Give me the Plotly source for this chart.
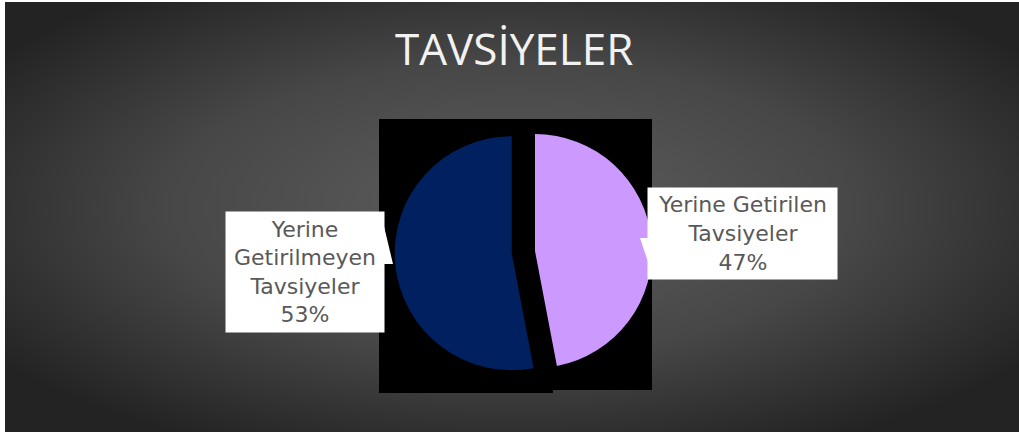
import base64
import plotly.graph_objects as go

# chart data
labels = ["Yerine Getirilen Tavsiyeler", "Yerine Getirilmeyen Tavsiyeler"]
values = [47, 53]
colors = ["#CC99FF", "#002060"]
label_text = ["Yerine Getirilen<br>Tavsiyeler<br>47%",
              "Yerine<br>Getirilmeyen<br>Tavsiyeler<br>53%"]
title = "TAVSİYELER"

W, H = 1019, 432


def px(x):
    return x / W


def py(y):
    return 1 - y / H


def tri(pts):
    # svg path for a callout wedge, given pixel points
    d = " L ".join(f"{px(x):.5f},{py(y):.5f}" for x, y in pts)
    return "M " + d + " Z"


# radial gradient background as an svg image
svg = """<svg xmlns='http://www.w3.org/2000/svg' width='1014' height='430' preserveAspectRatio='none'>
<defs><radialGradient id='g' cx='50%' cy='48%' r='62%' fx='50%' fy='48%'>
<stop offset='0%' stop-color='#5e5e5e'/>
<stop offset='55%' stop-color='#474747'/>
<stop offset='100%' stop-color='#232323'/>
</radialGradient></defs>
<rect width='1014' height='430' fill='url(#g)'/></svg>"""
bg_src = "data:image/svg+xml;base64," + base64.b64encode(svg.encode()).decode()

fig = go.Figure()

# pie centre ~ (535, 251), radius ~117 px, navy slice pulled out
fig.add_trace(go.Pie(
    labels=labels,
    values=values,
    marker=dict(colors=colors, line=dict(width=0)),
    sort=False,
    direction="clockwise",
    rotation=0,
    pull=[0, 0.2],
    textinfo="none",
    showlegend=False,
    domain=dict(x=[px(394.6), px(675.4)], y=[py(391.4), py(110.6)]),
))

# black plot area behind the pie
fig.add_shape(type="rect", xref="paper", yref="paper",
              x0=px(379), x1=px(652), y0=py(390), y1=py(119),
              fillcolor="black", line_width=0, layer="below")
fig.add_shape(type="rect", xref="paper", yref="paper",
              x0=px(379), x1=px(553), y0=py(393), y1=py(119),
              fillcolor="black", line_width=0, layer="below")

# callout wedges pointing at the slices
fig.add_shape(type="path", xref="paper", yref="paper",
              path=tri([(640, 238), (649, 238), (649, 265)]),
              fillcolor="white", line_width=0)
fig.add_shape(type="path", xref="paper", yref="paper",
              path=tri([(383, 222), (393, 264), (383, 264)]),
              fillcolor="white", line_width=0)

label_font = dict(family="DejaVu Sans", size=22, color="#595959")

fig.add_annotation(xref="paper", yref="paper", x=px(742.5), y=py(233.5),
                   text=label_text[0], font=label_font, showarrow=False,
                   xanchor="center", yanchor="middle",
                   width=189, height=91, bgcolor="white", borderpad=0)
fig.add_annotation(xref="paper", yref="paper", x=px(305), y=py(272),
                   text=label_text[1], font=label_font, showarrow=False,
                   xanchor="center", yanchor="middle",
                   width=158, height=120, bgcolor="white", borderpad=0)

fig.add_annotation(xref="paper", yref="paper", x=px(514), y=py(48),
                   text=title, showarrow=False,
                   xanchor="center", yanchor="middle",
                   font=dict(family="Open Sans", size=44, weight=500,
                             color="#F2F2F2"))

fig.update_layout(
    width=W, height=H,
    margin=dict(l=0, r=0, t=0, b=0),
    paper_bgcolor="white",
    plot_bgcolor="rgba(0,0,0,0)",
    images=[dict(source=bg_src, xref="paper", yref="paper",
                 x=px(5), y=1 - 2 / H, sizex=1 - px(5), sizey=1 - 2 / H,
                 xanchor="left", yanchor="top", sizing="stretch",
                 layer="below")],
)

# drop the default page margin so the figure sits at the window's corner
fig.write_html("out.html", config={"displayModeBar": False},
               post_script="document.body.style.margin='0';")
